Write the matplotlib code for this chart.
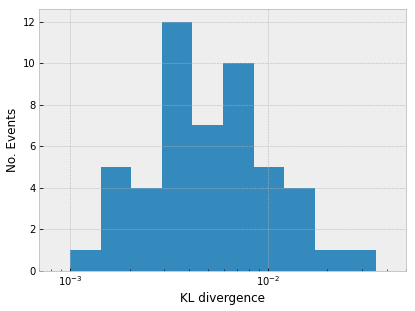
import matplotlib

matplotlib.use("Agg")
import matplotlib.pyplot as plt
import numpy as np

bin_edges = [0.001, 0.001428, 0.00204, 0.002914, 0.004163, 0.005946,
             0.008494, 0.01213, 0.01733, 0.02476, 0.03536]
counts = [1, 5, 4, 12, 7, 10, 5, 4, 1, 1]

plt.style.use("bmh")
fig, ax = plt.subplots(figsize=(415 / 72, 311 / 72), dpi=72)

edges = np.array(bin_edges)
centers = np.sqrt(edges[:-1] * edges[1:])
ax.hist(centers, bins=edges, weights=counts)
ax.set_xscale("log")
ax.set_xlim(7e-4, 5e-2)
ax.set_xlabel("KL divergence")
ax.set_ylabel("No. Events")

fig.subplots_adjust(left=0.095, right=0.978, top=0.970, bottom=0.13)
fig.savefig("out.png", dpi=72)
